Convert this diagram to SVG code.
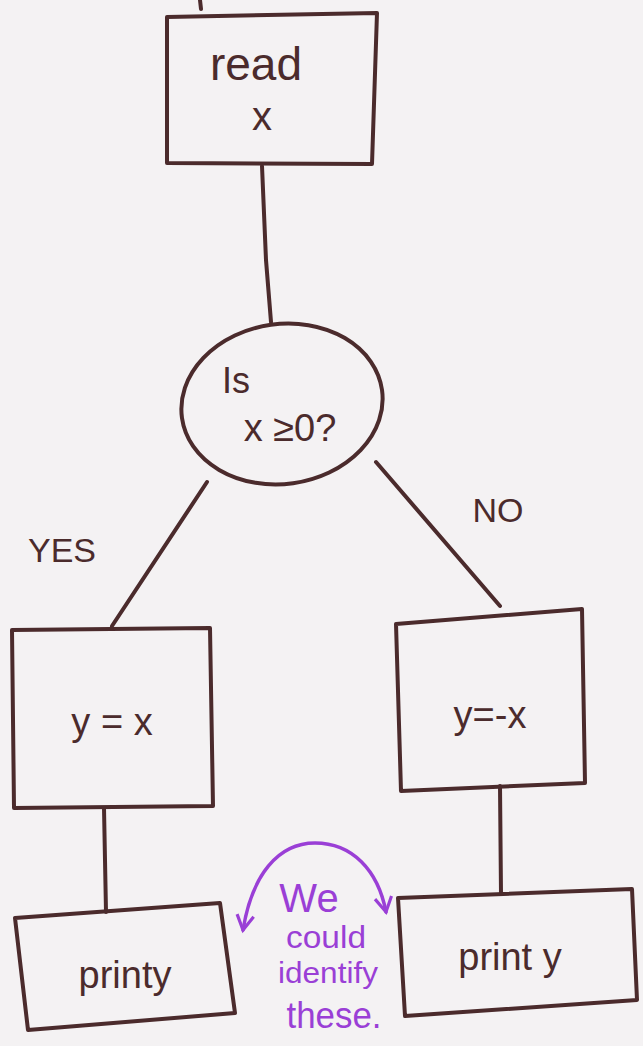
<svg xmlns="http://www.w3.org/2000/svg" width="643" height="1046" viewBox="0 0 643 1046">
<style>
.ink{fill:none;stroke:#4b2b2c;stroke-width:4;stroke-linecap:round;stroke-linejoin:round}
.t{font-family:"Liberation Sans",Arial,sans-serif;fill:#4b2b2c;text-anchor:middle}
.p{fill:none;stroke:#9a3fd6;stroke-width:3.5;stroke-linecap:round;stroke-linejoin:round}
.pt{font-family:"Liberation Sans",Arial,sans-serif;fill:#9a3fd6;text-anchor:middle}
</style>
<defs>
<marker id="ah" viewBox="0 0 10 10" refX="8" refY="5" markerWidth="6" markerHeight="6" orient="auto-start-reverse" markerUnits="strokeWidth">
<path d="M1,1 L8,5 L1,9" fill="none" stroke="#9a3fd6" stroke-width="1.5"/>
</marker>
</defs>
<rect width="643" height="1046" fill="#f4f2f3"/>
<g id="connectors">
<path class="ink" d="M200,0 L201,9"/>
<path class="ink" d="M262,166 L266,260 L271,322"/>
<path class="ink" d="M207,482 L112,626"/>
<path class="ink" d="M376,462 L500,606"/>
<path class="ink" d="M104,808 L106,912"/>
<path class="ink" d="M500,786 L501,894"/>
<text class="t" x="62" y="562" font-size="34">YES</text>
<text class="t" x="498" y="522" font-size="34">NO</text>
</g>
<g id="read">
<path class="ink" d="M167,17 L377,13 L372,164 L167,163 Z"/>
<text class="t" x="256" y="80" font-size="46">read</text>
<text class="t" x="262" y="130" font-size="40">x</text>
</g>
<g id="decision">
<ellipse class="ink" cx="282" cy="404" rx="101" ry="80" transform="rotate(-8 282 404)"/>
<text class="t" x="236" y="393" font-size="36">Is</text>
<text class="t" x="290" y="441" font-size="38">x ≥0?</text>
</g>
<g id="yx">
<path class="ink" d="M12,630 L210,628 L213,806 L14,808 Z"/>
<text class="t" x="112" y="735" font-size="38">y = x</text>
</g>
<g id="ynx">
<path class="ink" d="M396,624 L582,609 L585,783 L401,791 Z"/>
<text class="t" x="490" y="728" font-size="38">y=-x</text>
</g>
<g id="printL">
<path class="ink" d="M15,918 L220,903 L235,1013 L28,1030 Z"/>
<text class="t" x="125" y="988" font-size="38">printy</text>
</g>
<g id="printR">
<path class="ink" d="M398,898 L632,889 L637,1000 L405,1016 Z"/>
<text class="t" x="510" y="970" font-size="38">print y</text>
</g>
<g id="note">
<path class="p" d="M243,930 C252,875 278,843 315,843 C352,843 378,870 386,912" marker-start="url(#ah)" marker-end="url(#ah)"/>
<text class="pt" x="309" y="912" font-size="40">We</text>
<text class="pt" x="326" y="948" font-size="32" textLength="80" lengthAdjust="spacingAndGlyphs">could</text>
<text class="pt" x="328" y="983" font-size="30" textLength="100" lengthAdjust="spacingAndGlyphs">identify</text>
<text class="pt" x="334" y="1028" font-size="36" textLength="95" lengthAdjust="spacingAndGlyphs">these.</text>
</g>
</svg>
